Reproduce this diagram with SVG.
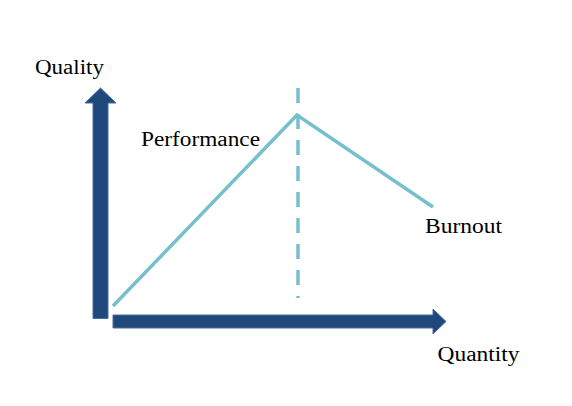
<svg xmlns="http://www.w3.org/2000/svg" width="572" height="406" viewBox="0 0 572 406">
<style>
.lbl{font-family:"Liberation Serif","DejaVu Serif",serif;font-size:20px;fill:#000}
.axis{fill:#1F497D;stroke:#4A6FA0;stroke-width:1}
.curve{fill:none;stroke:#78BFCE;stroke-width:3.5}
</style>
<rect width="572" height="406" fill="#fff"/>
<g id="y-axis"><polygon class="axis" points="93,318.5 108,318.5 108,103 116,103 100.5,88 85,103 93,103"/></g>
<g id="x-axis"><polygon class="axis" points="113,315 433,315 433,309 446,321.5 433,334 433,328 113,328"/></g>
<g id="connectors">
<polyline class="curve" points="113,306 297,115 433,207"/>
<line class="curve" x1="298" y1="88" x2="298" y2="298" stroke-dasharray="15 11"/>
</g>
<g id="labels">
<text class="lbl" x="35" y="74" textLength="69" lengthAdjust="spacingAndGlyphs">Quality</text>
<text class="lbl" x="141" y="146" textLength="119" lengthAdjust="spacingAndGlyphs">Performance</text>
<text class="lbl" x="425" y="233" textLength="77" lengthAdjust="spacingAndGlyphs">Burnout</text>
<text class="lbl" x="437.5" y="361" textLength="82" lengthAdjust="spacingAndGlyphs">Quantity</text>
</g>
</svg>
